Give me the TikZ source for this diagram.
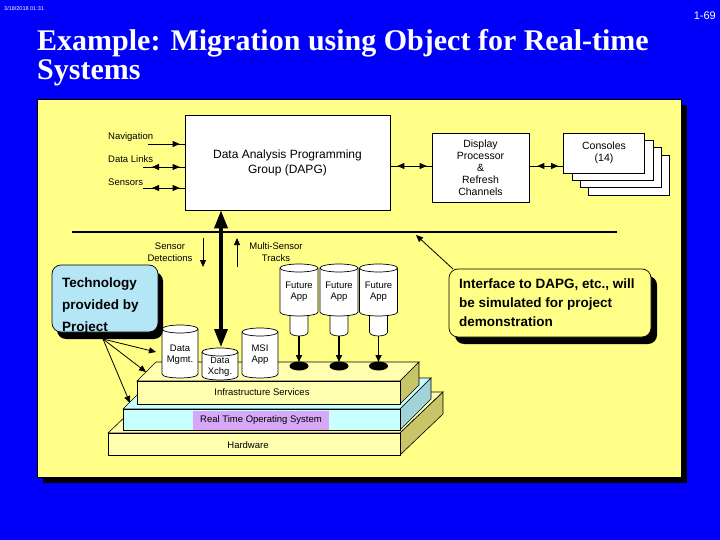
\documentclass[tikz,border=0pt]{standalone}
\usepackage{fontspec}
\setmainfont{Liberation Sans}
\newfontfamily\titlefont{Liberation Serif}
\usetikzlibrary{arrows.meta,decorations.markings}
\definecolor{bgblue}{RGB}{0,0,250}
\definecolor{panelyellow}{RGB}{255,255,136}
\definecolor{techblue}{RGB}{180,230,245}
\definecolor{slabyellow}{RGB}{255,255,175}
\definecolor{olive}{RGB}{200,196,104}
\definecolor{rtcyan}{RGB}{200,255,255}
\definecolor{rtside}{RGB}{160,212,216}
\definecolor{lavender}{RGB}{216,168,248}
\tikzset{
  mytip/.tip={Triangle[length=7pt,width=6pt]},
  box/.style={draw=black, line width=0.7pt, fill=white, inner sep=0pt},
  lbl/.style={inner sep=0pt, align=center, font=\fontsize{9.5}{12}\selectfont},
  cylline/.style={draw=black, line width=0.7pt},
  cyltext/.style={inner sep=0pt, align=center, font=\fontsize{9.5}{11}\selectfont},
  slabline/.style={draw=black, line width=0.6pt},
  conn/.style={draw=black, line width=0.8pt},
  twoheads/.style={conn, postaction={decorate}, decoration={markings,
      mark=at position #1 with {\arrowreversed{mytip}},
      mark=at position -5pt with {\arrow{mytip}}}},
  onehead/.style={conn, postaction={decorate}, decoration={markings,
      mark=at position -5pt with {\arrow{mytip}}}},
  bigarrow/.style={draw=black, line width=3.5pt,
      {Triangle[length=18pt,width=13pt]}-{Triangle[length=18pt,width=13pt]}},
  callouttext/.style={inner sep=0pt, align=left, font=\bfseries\fontsize{13.5}{19}\selectfont},
}
\newcommand\mycyl[7]{%
  \fill[white] (#2-#5,#3) -- (#2-#5,#4) .. controls (#2-#5,#4+5.3) and (#2+#5,#4+5.3) .. (#2+#5,#4) -- (#2+#5,#3) -- cycle;
  \draw[cylline] (#2-#5,#3) -- (#2-#5,#4) .. controls (#2-#5,#4+5.3) and (#2+#5,#4+5.3) .. (#2+#5,#4) -- (#2+#5,#3);
  \draw[cylline,fill=white] (#2,#3) ellipse [x radius=#5, y radius=4];
  \node[cyltext] (#1) at (#2,#6) {#7};
}
\newcommand\myslab[9]{%
  \filldraw[fill=#9, slabline] (#1,#2) -- (#1+#5,#2-#6) -- (#3+#5,#2-#6) -- (#3,#2) -- cycle;
  \filldraw[fill=#8, slabline] (#3,#2) -- (#3+#5,#2-#6) -- (#3+#5,#4-#6) -- (#3,#4) -- cycle;
  \filldraw[fill=#7, slabline] (#1,#2) rectangle (#3,#4);
}
\begin{document}
\begin{tikzpicture}[x=1pt,y=-1pt]
\useasboundingbox (0,0) rectangle (720,540);
\fill[bgblue] (0,0) rectangle (720,540);

% header texts
\node[anchor=west, inner sep=0pt, text=white, font=\fontsize{5.5}{6}\selectfont] (date) at (4,9) {3/18/2018 01:31};
\node[anchor=east, inner sep=0pt, text=white, font=\fontsize{11}{13}\selectfont] (pnum) at (716,16) {1-69};
\node[anchor=base west, inner sep=0pt, text=white, font=\titlefont\bfseries\fontsize{30}{30}\selectfont] (title1) at (37,51) {Example: Migration using Object for Real-time};
\node[anchor=base west, inner sep=0pt, text=white, font=\titlefont\bfseries\fontsize{30}{30}\selectfont] (title2) at (37,80) {Systems};

% panel
\fill[black] (43,105) rectangle (687,483);
\filldraw[fill=panelyellow, draw=black, line width=0.6pt] (37,99) rectangle (681,477);

% DAPG
\node[box, minimum width=205pt, minimum height=95pt, align=center, font=\fontsize{12}{15}\selectfont] (dapg) at (287.5,162.5) {Data Analysis Programming\\Group (DAPG)};

% inputs
\node[lbl, anchor=west] (nav) at (108,137) {Navigation};
\node[lbl, anchor=west] (dlinks) at (108,159) {Data Links};
\node[lbl, anchor=west] (sens) at (108,182) {Sensors};
\coordinate (navS) at (148,144);
\coordinate (dlS) at (143,167);
\coordinate (snS) at (143,188);
\draw[onehead] (navS) -- (navS -| dapg.west);
\draw[twoheads=9pt] (dlS) -- (dlS -| dapg.west);
\draw[twoheads=9pt] (snS) -- (snS -| dapg.west);

% Display processor
\node[box, minimum width=97pt, minimum height=69pt, align=center, font=\fontsize{10.5}{12}\selectfont] (disp) at (480.5,167.5) {Display\\Processor\\\&\\Refresh\\Channels};
\draw[twoheads=7pt] (dapg.east |- 0,166) -- (disp.west |- 0,166);

% Consoles
\node[box, minimum width=81pt, minimum height=40pt] (con4) at (628.5,175) {};
\node[box, minimum width=81pt, minimum height=40pt] (con3) at (620.5,167.5) {};
\node[box, minimum width=81pt, minimum height=40pt] (con2) at (612.5,160) {};
\node[box, minimum width=81pt, minimum height=40pt, align=center, font=\fontsize{10.5}{12}\selectfont] (con1) at (604,153) {Consoles\\(14)};
\draw[twoheads=8pt] (disp.east |- 0,166) -- (con1.west |- 0,166);

% bus
\coordinate (busL) at (72,232);
\coordinate (busR) at (617,232);
\draw[line width=2pt] (busL) -- (busR);

% sensor arrows
\node[lbl] (sdet) at (170,252) {Sensor\\Detections};
\node[lbl] (mst) at (276,252) {Multi-Sensor\\Tracks};
\coordinate (sd1) at (203,238);
\coordinate (sd2) at (203,267);
\coordinate (ms1) at (237,267);
\coordinate (ms2) at (237,238);
\draw[conn, -mytip] (sd1) -- (sd2);
\draw[conn, -mytip] (ms1) -- (ms2);

% stack of slabs
\myslab{108}{433}{400}{455}{43}{41}{slabyellow}{olive}{slabyellow}
\myslab{123}{409}{400}{430}{31}{31}{rtcyan}{rtside}{rtcyan}
\myslab{137}{381}{400}{404}{19}{19}{slabyellow}{olive}{slabyellow}
\node[lbl] (infra) at (262,392) {Infrastructure Services};
\node[fill=lavender, minimum width=136pt, minimum height=19pt, inner sep=0pt, font=\fontsize{9.5}{11}\selectfont] (rtos) at (261,420.5) {Real Time Operating System};
\node[lbl] (hw) at (248,445) {Hardware};

% cylinders on infrastructure
\mycyl{dmgmt}{180}{329}{374}{18}{355}{Data\\Mgmt.}
\mycyl{msi}{260}{332}{374}{18}{355}{MSI\\App}
\mycyl{xchg}{220}{352}{376}{18}{367}{\fontsize{9}{8.5}\selectfont Data\\Xchg.}
\coordinate (xchgtop) at (221,347);

% future apps
\foreach \i/\cx in {1/299,2/339,3/378.5}{
  \mycyl{fneck\i}{\cx}{311}{332}{9}{322}{}
  \mycyl{fapp\i}{\cx}{268}{312}{19}{291.5}{Future\\App}
  \fill[black] (\cx,366) ellipse [x radius=9.5, y radius=4.5];
  \coordinate (fb\i) at (\cx,336);
  \coordinate (fd\i) at (\cx,362);
  \draw[line width=1.5pt, -{Triangle[length=7pt,width=6pt]}] (fb\i) -- (fd\i);
}

% thick arrow
\draw[bigarrow] (xchgtop) -- (dapg.south -| xchgtop);

% Technology callout
\fill[black, rounded corners=9pt] (57,272) rectangle (163,339);
\filldraw[fill=techblue, draw=black, line width=0.7pt, rounded corners=9pt] (52,265) rectangle (158,332);
\node[callouttext, anchor=west, font=\bfseries\fontsize{13.5}{22}\selectfont] (techtxt) at (62,306) {Technology\\provided by\\Project};
\coordinate (tsrc) at (103,339);
\coordinate (t1) at (156,352);
\coordinate (t2) at (146,372);
\coordinate (t3) at (130,403);
\draw[conn, -mytip] (tsrc) -- (t1);
\draw[conn, -mytip] (tsrc) -- (t2);
\draw[conn, -mytip] (tsrc) -- (t3);

% Interface callout
\fill[black, rounded corners=9pt] (455,276) rectangle (657,344);
\filldraw[fill=panelyellow, draw=black, line width=0.7pt, rounded corners=9pt] (449,269) rectangle (651,337);
\node[callouttext, anchor=west] (iftxt) at (459,303) {Interface to DAPG, etc., will\\be simulated for project\\demonstration};
\coordinate (ifsrc) at (453,269);
\coordinate (ifdst) at (416,235);
\draw[conn, -mytip] (ifsrc) -- (ifdst);
\end{tikzpicture}
\end{document}
